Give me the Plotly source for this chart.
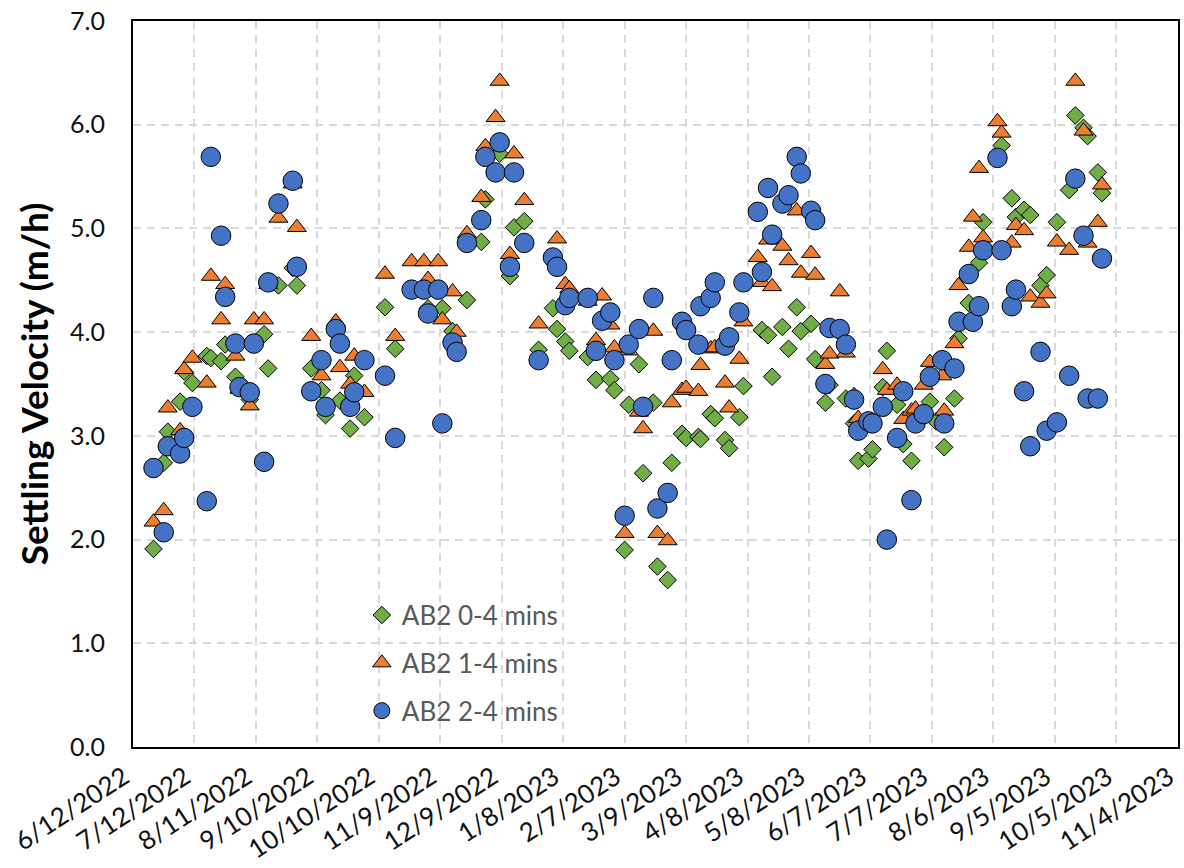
import plotly.graph_objects as go

# ---- data ----
dates = [
    "2022-06-22", "2022-06-27", "2022-06-29", "2022-07-05", "2022-07-07", "2022-07-11", "2022-07-18", "2022-07-20", "2022-07-25", "2022-07-27",
    "2022-08-01", "2022-08-03", "2022-08-08", "2022-08-10", "2022-08-15", "2022-08-17", "2022-08-22", "2022-08-29", "2022-08-31", "2022-09-07",
    "2022-09-12", "2022-09-14", "2022-09-19", "2022-09-21", "2022-09-26", "2022-09-28", "2022-10-03", "2022-10-13", "2022-10-18", "2022-10-26",
    "2022-11-01", "2022-11-03", "2022-11-08", "2022-11-10", "2022-11-15", "2022-11-17", "2022-11-22", "2022-11-29", "2022-12-01", "2022-12-06",
    "2022-12-08", "2022-12-13", "2022-12-15", "2022-12-20", "2022-12-27", "2023-01-03", "2023-01-05", "2023-01-09", "2023-01-11", "2023-01-20",
    "2023-01-24", "2023-01-27", "2023-01-31", "2023-02-02", "2023-02-07", "2023-02-09", "2023-02-14", "2023-02-16", "2023-02-21", "2023-02-23",
    "2023-02-28", "2023-03-02", "2023-03-07", "2023-03-09", "2023-03-15", "2023-03-16", "2023-03-21", "2023-03-23", "2023-03-28", "2023-03-30",
    "2023-04-04", "2023-04-06", "2023-04-13", "2023-04-15", "2023-04-18", "2023-04-20", "2023-04-25", "2023-04-28", "2023-05-02", "2023-05-04",
    "2023-05-09", "2023-05-11", "2023-05-16", "2023-05-18", "2023-05-23", "2023-05-26", "2023-05-30", "2023-06-01", "2023-06-06", "2023-06-08",
    "2023-06-13", "2023-06-15", "2023-06-20", "2023-06-23", "2023-06-27", "2023-06-29", "2023-07-03", "2023-07-06", "2023-07-09", "2023-07-12",
    "2023-07-13", "2023-07-18", "2023-07-20", "2023-07-25", "2023-07-27", "2023-07-30", "2023-08-01", "2023-08-08", "2023-08-10", "2023-08-15",
    "2023-08-17", "2023-08-21", "2023-08-24", "2023-08-29", "2023-09-01", "2023-09-06", "2023-09-12", "2023-09-15", "2023-09-19", "2023-09-21",
    "2023-09-26", "2023-09-28",
]

ab2_0_4 = [
    1.91, 2.74, 3.04, 3.33, 3.62, 3.51, 3.77, 3.75, 3.72, 3.88,
    3.57, 3.47, 3.35, None, 3.98, 3.65, 4.45, 4.62, 4.45, 3.65,
    3.44, 3.20, None, 3.34, 3.07, 3.58, 3.18, 4.24, 3.84, None,
    None, 4.23, None, 4.23, 4.01, None, 4.31, 4.87, 5.28, None,
    5.72, 4.54, 5.01, 5.07, 3.83, 4.23, 4.03, 3.91, 3.82, 3.76,
    3.54, None, 3.55, 3.44, 1.90, 3.30, 3.69, 2.64, 3.32, 1.74,
    1.61, 2.74, 3.02, 2.98, 2.99, 2.97, 3.21, 3.17, 2.96, 2.88,
    3.18, 3.48, None, 4.02, 3.97, 3.57, 4.05, 3.84, 4.24, 4.01,
    4.08, 3.74, 3.32, 3.49, None, 3.36, 3.12, 2.76, 2.78, 2.87,
    3.47, 3.82, 3.30, 2.92, 2.76, None, None, 3.33, 3.14, None,
    2.89, 3.36, 3.94, 4.28, None, 4.67, 5.06, None, 5.80, 5.29,
    5.11, 5.18, 5.13, 4.45, 4.55, 5.06, 5.37, 6.09, 5.97, 5.89,
    5.54, 5.34,
]

ab2_1_4 = [
    2.17, 2.28, 3.27, 3.05, 3.64, 3.75, 3.51, 4.54, 4.12, 4.46,
    3.77, 3.45, 3.29, 4.12, 4.12, 4.46, 5.10, 5.43, 5.01, 3.96,
    3.58, None, 4.10, 3.66, 3.50, 3.77, 3.42, 4.56, 3.96, 4.68,
    4.68, 4.51, 4.68, 4.12, 4.39, 4.00, 4.95, 5.30, 5.79, 6.07,
    6.42, 4.75, 5.72, 5.27, 4.08, None, 4.90, 4.46, 4.42, 4.30,
    3.92, 4.35, 4.07, 3.85, 2.06, 3.82, 3.23, 3.07, 4.01, 2.06,
    1.99, 3.32, 3.44, 3.46, 3.43, 3.68, 3.84, 3.85, 3.51, 3.27,
    3.74, 4.10, 4.72, 4.48, 4.89, 4.44, 4.83, 4.69, 5.17, 4.57,
    4.76, 4.55, 3.69, 3.79, 4.39, 3.80, 3.39, 3.17, None, None,
    3.64, 3.44, 3.49, 3.16, 3.24, 3.26, 3.49, 3.71, None, 3.58,
    3.24, 3.89, 4.45, 4.82, 5.11, 5.58, 4.91, 6.03, 5.92, 4.86,
    5.03, 4.98, 4.34, 4.28, 4.37, 4.87, 4.79, 6.42, 5.94, 4.86,
    5.06, 5.42,
]

ab2_2_4 = [
    2.69, 2.07, 2.90, 2.83, 2.98, 3.28, 2.37, 5.69, 4.93, 4.34,
    3.89, 3.47, 3.42, 3.89, 2.75, 4.48, 5.24, 5.46, 4.63, 3.43,
    3.73, 3.28, 4.03, 3.89, 3.28, 3.42, 3.73, 3.58, 2.98, 4.41,
    4.41, 4.18, 4.41, 3.12, 3.90, 3.81, 4.86, 5.08, 5.69, 5.54,
    5.83, 4.63, 5.54, 4.86, 3.73, 4.72, 4.63, 4.26, 4.33, 4.33,
    3.82, 4.11, 4.19, 3.73, 2.23, 3.88, 4.03, 3.28, 4.33, 2.30,
    2.45, 3.73, 4.10, 4.02, 3.88, 4.25, 4.33, 4.48, 3.87, 3.95,
    4.19, 4.48, 5.16, 4.58, 5.39, 4.94, 5.24, 5.32, 5.69, 5.53,
    5.17, 5.08, 3.50, 4.04, 4.03, 3.88, 3.35, 3.05, 3.14, 3.12,
    3.28, 2.00, 2.98, 3.43, 2.38, 3.12, 3.21, 3.57, None, 3.73,
    3.12, 3.65, 4.10, 4.56, 4.10, 4.25, 4.79, 5.68, 4.79, 4.25,
    4.41, 3.43, 2.90, 3.81, 3.05, 3.13, 3.58, 5.48, 4.93, 3.36,
    3.36, 4.71,
]

series_names = ["AB2 0-4 mins", "AB2 1-4 mins", "AB2 2-4 mins"]

tick_dates = [
    "2022-06-12", "2022-07-12", "2022-08-11", "2022-09-10", "2022-10-10", "2022-11-09",
    "2022-12-09", "2023-01-08", "2023-02-07", "2023-03-09", "2023-04-08", "2023-05-08",
    "2023-06-07", "2023-07-07", "2023-08-06", "2023-09-05", "2023-10-05", "2023-11-04",
]
tick_labels = [
    "6/12/2022", "7/12/2022", "8/11/2022", "9/10/2022", "10/10/2022", "11/9/2022",
    "12/9/2022", "1/8/2023", "2/7/2023", "3/9/2023", "4/8/2023", "5/8/2023",
    "6/7/2023", "7/7/2023", "8/6/2023", "9/5/2023", "10/5/2023", "11/4/2023",
]
y_ticks = [0, 1, 2, 3, 4, 5, 6, 7]

# ---- styling ----
FONT = "Lato"
styles = [
    dict(symbol="diamond", size=13.5, color="#70AD47"),
    dict(symbol="triangle-up", size=16.5, color="#ED7D31"),
    dict(symbol="circle", size=19.5, color="#4472C4"),
]

fig = go.Figure()
for i, (name, vals, st) in enumerate(zip(series_names, [ab2_0_4, ab2_1_4, ab2_2_4], styles)):
    fig.add_trace(go.Scatter(
        x=dates, y=vals, mode="markers", name=name, legendgroup=f"g{i}",
        marker=dict(symbol=st["symbol"], size=st["size"], color=st["color"],
                    line=dict(color="black", width=1)),
    ))

grid_dash = "8px,6px"
fig.update_layout(
    width=1184, height=868, autosize=False,
    margin=dict(l=133, r=6, t=21, b=121, pad=0),
    paper_bgcolor="white", plot_bgcolor="white",
    font=dict(family=FONT, color="#111111"),
    showlegend=True,
    legend=dict(
        x=0.219, y=0.214, xanchor="left", yanchor="top",
        bgcolor="rgba(0,0,0,0)", borderwidth=0,
        font=dict(family=FONT, size=26, color="#595959"),
        tracegroupgap=11, itemsizing="trace",
    ),
)

fig.update_xaxes(
    type="date", automargin=False,
    range=[tick_dates[0], "2023-11-04 03:00"],
    tickmode="array", tickvals=tick_dates, ticktext=tick_labels,
    tickangle=-33,
    tickfont=dict(family=FONT, size=26, color="#111111"),
    ticks="outside", ticklen=3, tickcolor="rgba(0,0,0,0)",
    ticklabelshift=-9, ticklabeloverflow="allow",
    showgrid=True, gridcolor="#D9D9D9", gridwidth=1.5, griddash=grid_dash,
    showline=True, linecolor="black", linewidth=2, mirror=True,
    zeroline=False,
)
fig.update_yaxes(
    automargin=False,
    range=[0, 7], tickmode="array", tickvals=y_ticks,
    tickformat=".1f",
    tickfont=dict(family=FONT, size=25, color="#111111"),
    ticks="outside", ticklen=21, tickcolor="rgba(0,0,0,0)",
    showgrid=True, gridcolor="#D9D9D9", gridwidth=1.5, griddash=grid_dash,
    showline=True, linecolor="black", linewidth=2, mirror=True,
    zeroline=False,
    title=dict(text="<b>Settling Velocity (m/h)</b>",
               font=dict(family=FONT, size=37, color="#000000"), standoff=10),
)

fig.write_html("out.html")
